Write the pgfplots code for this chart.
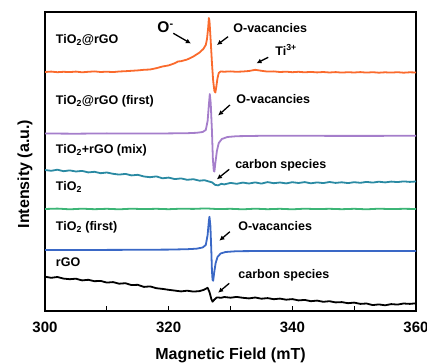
\documentclass[border=0pt]{standalone}
\usepackage{pgfplots}
\pgfplotsset{compat=1.18}
\usepackage{fontspec}
\setmainfont{Liberation Sans}
\usetikzlibrary{arrows.meta}
\definecolor{cOrange}{HTML}{FA6A2C}
\definecolor{cPurple}{HTML}{A57ECB}
\definecolor{cTeal}{HTML}{2A8AA3}
\definecolor{cGreen}{HTML}{3CB576}
\definecolor{cBlue}{HTML}{3A68C6}
\newcommand{\lab}{\fontsize{12.5bp}{14bp}\selectfont\bfseries}
\begin{document}
\begin{tikzpicture}
\useasboundingbox (-45bp,-53bp) rectangle (382bp,311bp);
\begin{axis}[
  at={(0,0)}, anchor=south west,
  scale only axis, width=371bp, height=299bp,
  xmin=300, xmax=360, ymin=0, ymax=299,
  axis line style={line width=1.3bp},
  xtick={300,310,320,330,340,350,360},
  xticklabels={300,,320,,340,,360},
  xtick pos=bottom, tick align=inside,
  major tick length=5bp,
  tick style={line width=1.2bp, black},
  ytick=\empty,
  /pgf/number format/assume math mode=true,
  xticklabel style={font=\fontsize{15bp}{15bp}\selectfont\bfseries, yshift=-8bp},
  xlabel={Magnetic Field (mT)},
  ylabel={Intensity (a.u.)},
  label style={font=\fontsize{16bp}{18bp}\selectfont\bfseries},
  xlabel style={at={(axis description cs:0.5,-0.15)}, anchor=center},
  ylabel style={at={(axis description cs:-0.054,0.458)}, anchor=center},
  every axis plot/.append style={line width=1.8bp, line join=round},
  clip=true,
]
% orange TiO2@rGO
\addplot[cOrange] coordinates {
(300,239)(301,239.4)(302,238.8)(303,239.2)(304,238.9)(305,239.4)(306,238.7)(307,239.2)(308,239.6)(309,239)(310,239.3)(311,238.9)(312,239.5)(313,239.8)(314,240.2)(315,240.6)(316,241.2)(317,241.5)(318,242.8)(319,244.5)(320,245.6)(321,247.8)(321.5,249.5)(322,249.8)(323,251.5)(324,254.5)(325,258.5)(325.6,262)(326,266)(326.2,272)(326.4,284)(326.5,293)(326.6,290)(326.8,270)(327.0,248)(327.2,230)(327.4,220)(327.55,218.5)(327.7,224)(327.9,233)(328.1,238)(328.4,239.5)(329,239.3)(330,239.6)(331,239.2)(332,239.5)(333,240)(334,241.2)(335,240.2)(336,239.4)(337,239.6)(338,239)(339,239.3)(340,238.8)(341,239.2)(342,238.7)(343,239.1)(344,238.6)(345,239)(346,238.5)(347,238.9)(348,238.4)(349,238.8)(350,238.5)(351,238.9)(352,238.4)(353,238.8)(354,238.3)(355,238.7)(356,238.4)(357,238.8)(358,238.3)(359,238.7)(360,238.5)
};
% purple TiO2@rGO (first)
\addplot[cPurple] coordinates {
(300,177.5)(305,177.3)(310,177.6)(315,177.4)(320,177.6)(323,177.8)(324.5,178.2)(325.5,179)(326,181)(326.3,190)(326.5,206)(326.65,217)(326.8,208)(327.0,180)(327.15,152)(327.3,140)(327.4,139.5)(327.55,148)(327.8,160)(328.1,168)(328.6,172)(329.5,174)(331,174.8)(335,175.2)(340,175.2)(350,175.1)(360,175.2)
};
% teal TiO2+rGO (mix)
\addplot[cTeal] coordinates {
(300,141)(301,140.2)(302,141.3)(303,139.8)(304,140.6)(305,139.5)(306,140.1)(307,138.6)(308,139.2)(309,137.8)(310,138.5)(311,137.2)(312,136.4)(313,137.1)(314,135.6)(315,136.2)(316,134.5)(317,133.8)(318,134.6)(319,132.7)(320,133.4)(321,131.9)(322,132.6)(323,131.2)(324,131.8)(325,130.3)(325.8,130.8)(326.5,129.5)(327.0,128.7)(327.5,126.2)(328,125.6)(328.5,127.2)(329,126.6)(330,128.1)(331,127.2)(332,128.4)(333,127.5)(334,128.6)(335,127.4)(336,128.9)(337,127.8)(338,128.5)(339,127.6)(340,128.8)(341,128)(342,128.9)(343,127.7)(344,128.6)(345,127.9)(346,129)(347,128.1)(348,128.7)(349,127.9)(350,128.8)(351,128.2)(352,129.1)(353,128.4)(354,129.3)(355,128.6)(356,129.4)(357,128.9)(358,129.6)(359,129.1)(360,129.5)
};
% green TiO2
\addplot[cGreen] coordinates {
(300,102)(302,102.4)(304,101.7)(306,102.3)(308,101.8)(310,102.2)(312,101.7)(314,102.3)(316,101.9)(318,102.2)(320,101.8)(322,102.3)(324,102.1)(326,102.6)(328,101.9)(330,102.2)(332,101.7)(334,102.3)(336,101.8)(338,102.2)(340,101.7)(342,102.3)(344,101.9)(346,102.2)(348,101.8)(350,102.2)(352,101.7)(354,102.3)(356,101.9)(358,102.2)(360,102)
};
% blue TiO2 (first)
\addplot[cBlue] coordinates {
(300,61)(305,61)(310,61.1)(315,61.2)(320,61.4)(323,61.8)(324.5,62.3)(325.5,63.5)(326,66)(326.3,76)(326.5,90)(326.6,94.3)(326.75,85)(326.9,60)(327.0,40)(327.1,31)(327.2,30.3)(327.35,38)(327.6,48)(327.9,54)(328.4,57.5)(329.2,59)(331,59.8)(335,60)(340,60)(350,60)(360,60)
};
% black rGO
\addplot[black] coordinates {
(300,34.3)(301,33.2)(302,34)(303,32.4)(304,31.8)(305,32.3)(306,30.6)(307,31.2)(308,29.8)(309,30.1)(310,28.4)(311,28.9)(312,27.3)(313,27.8)(314,25.9)(315,26.2)(316,24.1)(317,24.6)(318,22.8)(319,22.1)(320,21.2)(321,20.4)(322,19.6)(323,20.3)(324,19.4)(325,19.9)(325.7,21.2)(326.3,23.2)(326.6,19)(326.9,12)(327.1,9.3)(327.4,11.5)(327.8,13.6)(328.5,13.2)(329,14)(330,13.3)(331,14.1)(332,13.2)(333,12.6)(334,13.5)(335,12.3)(336,12.9)(337,11.8)(338,12.4)(339,11.3)(340,11.9)(341,10.6)(342,11.1)(343,9.8)(344,10.4)(345,9.2)(346,9.8)(347,8.6)(348,8.9)(349,7.8)(350,8.4)(351,7.1)(352,7.5)(353,5.9)(354,6.6)(355,5.7)(356,6.9)(357,6.4)(358,7.5)(359,7.1)(360,7.7)
};
% sample labels
\node[anchor=west,font=\lab] at (axis cs:301.2,271) {TiO\textsubscript{2}@rGO};
\node[anchor=west,font=\lab] at (axis cs:301.2,210) {TiO\textsubscript{2}@rGO (first)};
\node[anchor=west,font=\lab] at (axis cs:301.2,161) {TiO\textsubscript{2}+rGO (mix)};
\node[anchor=west,font=\lab] at (axis cs:301.2,124) {TiO\textsubscript{2}};
\node[anchor=west,font=\lab] at (axis cs:301.2,84) {TiO\textsubscript{2} (first)};
\node[anchor=west,font=\lab] at (axis cs:301.2,49) {rGO};
% annotations
\node[font=\fontsize{15.5bp}{16bp}\selectfont\bfseries] at (axis cs:319.5,284) {O\textsuperscript{-}};
\draw[-{Latex[length=5bp,width=5bp]}, line width=1.3bp] (axis cs:320.75,277.7) -- (axis cs:323.6,267.5);
\node[anchor=west,font=\lab] at (axis cs:329.9,283) {O-vacancies};
\draw[-{Latex[length=5bp,width=5bp]}, line width=1.3bp] (axis cs:329.6,274.3) -- (axis cs:327.8,266);
\node[anchor=west,font=\lab] at (axis cs:336.7,261) {Ti\textsuperscript{3+}};
\draw[-{Latex[length=5bp,width=5bp]}, line width=1.3bp] (axis cs:336.1,253.7) -- (axis cs:334.2,247.7);
\node[anchor=west,font=\lab] at (axis cs:330.4,211.7) {O-vacancies};
\draw[-{Latex[length=5bp,width=5bp]}, line width=1.3bp] (axis cs:329.9,206) -- (axis cs:328.0,195.5);
\node[anchor=west,font=\lab] at (axis cs:330.2,146) {carbon species};
\draw[-{Latex[length=5bp,width=5bp]}, line width=1.3bp] (axis cs:329.8,141.7) -- (axis cs:327.8,131.7);
\node[anchor=west,font=\lab] at (axis cs:330.7,85) {O-vacancies};
\draw[-{Latex[length=5bp,width=5bp]}, line width=1.3bp] (axis cs:329.9,79.3) -- (axis cs:328.2,70.3);
\node[anchor=west,font=\lab] at (axis cs:330.7,36) {carbon species};
\draw[-{Latex[length=5bp,width=5bp]}, line width=1.3bp] (axis cs:329.8,27.7) -- (axis cs:328.0,18.3);
\end{axis}
\end{tikzpicture}
\end{document}
